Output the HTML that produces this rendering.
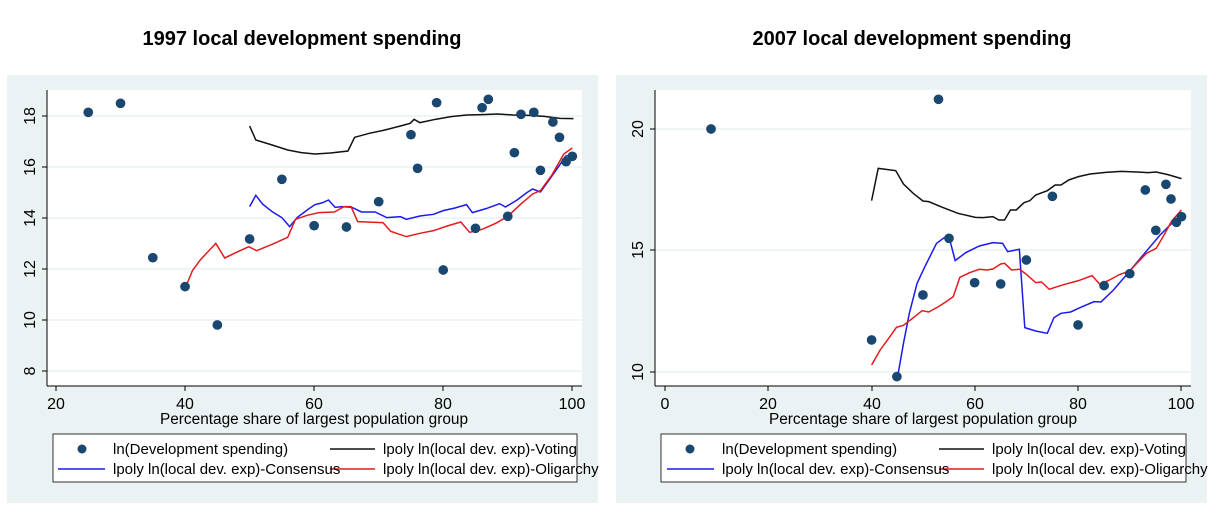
<!DOCTYPE html>
<html><head><meta charset="utf-8"><style>
html,body{margin:0;padding:0;background:#fff;}
svg{display:block;font-family:"Liberation Sans",Arial,sans-serif;}
</style></head><body>
<svg width="1216" height="525" viewBox="0 0 1216 525" xmlns="http://www.w3.org/2000/svg">
<rect width="1216" height="525" fill="#fff"/>
<text x="302" y="45" font-size="20" font-weight="bold" text-anchor="middle">1997 local development spending</text>
<text x="912" y="45" font-size="20" font-weight="bold" text-anchor="middle">2007 local development spending</text>

<!-- LEFT PANEL -->
<rect x="7" y="75" width="591" height="428" fill="#eaf2f3"/>
<rect x="47" y="90" width="535" height="296" fill="#fff"/>
<g stroke="#eaf2f3" stroke-width="1.5">
<line x1="47" x2="582" y1="116" y2="116"/><line x1="47" x2="582" y1="167" y2="167"/>
<line x1="47" x2="582" y1="218" y2="218"/><line x1="47" x2="582" y1="269" y2="269"/>
<line x1="47" x2="582" y1="320" y2="320"/><line x1="47" x2="582" y1="371" y2="371"/>
</g>
<g stroke="#000" stroke-width="1">
<line x1="47" y1="90" x2="47" y2="386"/><line x1="47" y1="386" x2="582" y2="386"/>
<line x1="42" x2="47" y1="116" y2="116"/><line x1="42" x2="47" y1="167" y2="167"/><line x1="42" x2="47" y1="218" y2="218"/><line x1="42" x2="47" y1="269" y2="269"/><line x1="42" x2="47" y1="320" y2="320"/><line x1="42" x2="47" y1="371" y2="371"/>
<line x1="56" x2="56" y1="386" y2="391"/><line x1="185" x2="185" y1="386" y2="391"/><line x1="314" x2="314" y1="386" y2="391"/><line x1="443" x2="443" y1="386" y2="391"/><line x1="572" x2="572" y1="386" y2="391"/>
</g>
<g font-size="16" text-anchor="middle">
<text x="56" y="409">20</text><text x="185" y="409">40</text><text x="314" y="409">60</text><text x="443" y="409">80</text><text x="572" y="409">100</text>
<text transform="translate(35,116) rotate(-90)">18</text><text transform="translate(35,167) rotate(-90)">16</text><text transform="translate(35,218) rotate(-90)">14</text><text transform="translate(35,269) rotate(-90)">12</text><text transform="translate(35,320) rotate(-90)">10</text><text transform="translate(35,371) rotate(-90)">8</text>
<text x="314" y="424" font-size="15.4">Percentage share of largest population group</text>
</g>
<g transform="translate(0,70) scale(0.3888,0.3333)" fill="none" stroke-width="1.5">
<polyline vector-effect="non-scaling-stroke" stroke="#111" points="642,168 658,210 700,225 740,240 775,248 810,252 850,249 895,243 912,202 950,190 990,180 1030,168 1055,160 1065,148 1080,158 1120,148 1160,140 1200,135 1240,134 1280,132 1320,135 1360,136 1400,139 1440,145 1475,146"/>
<polyline vector-effect="non-scaling-stroke" stroke="#1a1aee" points="642,410 658,376 675,402 700,425 725,443 745,470 765,442 790,420 810,404 830,398 845,390 862,412 880,410 905,412 930,426 965,426 995,443 1030,440 1045,448 1080,438 1115,433 1140,422 1170,414 1200,404 1215,428 1250,416 1285,401 1300,411 1330,390 1355,368 1370,357 1390,366 1410,334 1440,284 1455,258 1475,256"/>
<polyline vector-effect="non-scaling-stroke" stroke="#e41a1c" points="478,650 495,602 515,570 555,520 578,564 610,546 640,530 660,542 700,523 740,502 760,448 790,436 820,428 860,426 885,410 903,410 920,455 985,458 1005,484 1045,500 1080,490 1115,482 1150,468 1185,456 1208,487 1240,478 1275,460 1305,440 1340,402 1370,372 1390,362 1420,314 1450,252 1472,234"/>
<g fill="#1a476f" stroke="none">
<ellipse cx="227" cy="127" rx="12.5" ry="14.5"/><ellipse cx="310" cy="100" rx="12.5" ry="14.5"/><ellipse cx="393" cy="563" rx="12.5" ry="14.5"/><ellipse cx="476" cy="650" rx="12.5" ry="14.5"/><ellipse cx="559" cy="765" rx="12.5" ry="14.5"/><ellipse cx="642" cy="507" rx="12.5" ry="14.5"/><ellipse cx="725" cy="328" rx="12.5" ry="14.5"/><ellipse cx="808" cy="467" rx="12.5" ry="14.5"/><ellipse cx="891" cy="471" rx="12.5" ry="14.5"/><ellipse cx="974" cy="395" rx="12.5" ry="14.5"/><ellipse cx="1057" cy="194" rx="12.5" ry="14.5"/><ellipse cx="1074" cy="295" rx="12.5" ry="14.5"/><ellipse cx="1123" cy="98" rx="12.5" ry="14.5"/><ellipse cx="1140" cy="600" rx="12.5" ry="14.5"/><ellipse cx="1223" cy="475" rx="12.5" ry="14.5"/><ellipse cx="1240" cy="113" rx="12.5" ry="14.5"/><ellipse cx="1256" cy="88" rx="12.5" ry="14.5"/><ellipse cx="1306" cy="439" rx="12.5" ry="14.5"/><ellipse cx="1323" cy="248" rx="12.5" ry="14.5"/><ellipse cx="1340" cy="133" rx="12.5" ry="14.5"/><ellipse cx="1373" cy="127" rx="12.5" ry="14.5"/><ellipse cx="1390" cy="301" rx="12.5" ry="14.5"/><ellipse cx="1422" cy="156" rx="12.5" ry="14.5"/><ellipse cx="1439" cy="202" rx="12.5" ry="14.5"/><ellipse cx="1456" cy="275" rx="12.5" ry="14.5"/><ellipse cx="1472" cy="259" rx="12.5" ry="14.5"/>
</g>
</g>
<!-- legend left -->
<rect x="53" y="434" width="524" height="48" fill="#fff" stroke="#333" stroke-width="1"/>
<circle cx="82" cy="449" r="4.5" fill="#1a476f"/>
<line x1="58" x2="105" y1="469" y2="469" stroke="#1a1aee" stroke-width="1.5"/>
<line x1="330" x2="375" y1="449" y2="449" stroke="#111" stroke-width="1.5"/>
<line x1="330" x2="375" y1="469" y2="469" stroke="#e41a1c" stroke-width="1.5"/>
<g font-size="15"><text x="113" y="454">ln(Development spending)</text><text x="113" y="474">lpoly ln(local dev. exp)-Consensus</text><text x="383" y="454">lpoly ln(local dev. exp)-Voting</text><text x="383" y="474">lpoly ln(local dev. exp)-Oligarchy</text></g>

<!-- RIGHT PANEL -->
<rect x="616" y="75" width="591" height="428" fill="#eaf2f3"/>
<rect x="655" y="90" width="536" height="296" fill="#fff"/>
<g stroke="#eaf2f3" stroke-width="1.5">
<line x1="655" x2="1191" y1="129" y2="129"/><line x1="655" x2="1191" y1="250" y2="250"/><line x1="655" x2="1191" y1="372" y2="372"/>
</g>
<g stroke="#000" stroke-width="1">
<line x1="655" y1="90" x2="655" y2="386"/><line x1="655" y1="386" x2="1191" y2="386"/>
<line x1="650" x2="655" y1="129" y2="129"/><line x1="650" x2="655" y1="250" y2="250"/><line x1="650" x2="655" y1="372" y2="372"/>
<line x1="665" x2="665" y1="386" y2="391"/><line x1="768" x2="768" y1="386" y2="391"/><line x1="872" x2="872" y1="386" y2="391"/><line x1="975" x2="975" y1="386" y2="391"/><line x1="1078" x2="1078" y1="386" y2="391"/><line x1="1181" x2="1181" y1="386" y2="391"/>
</g>
<g font-size="16" text-anchor="middle">
<text x="665" y="409">0</text><text x="768" y="409">20</text><text x="872" y="409">40</text><text x="975" y="409">60</text><text x="1078" y="409">80</text><text x="1181" y="409">100</text>
<text transform="translate(643,129) rotate(-90)">20</text><text transform="translate(643,250) rotate(-90)">15</text><text transform="translate(643,372) rotate(-90)">10</text>
<text x="923" y="424" font-size="15.4">Percentage share of largest population group</text>
</g>
<g transform="translate(608,70) scale(0.3888,0.3333)" fill="none" stroke-width="1.5">
<polyline vector-effect="non-scaling-stroke" stroke="#111" points="678,392 695,295 740,302 760,342 785,370 810,393 825,395 860,412 900,430 945,442 965,443 990,440 1005,450 1020,450 1035,420 1050,420 1070,398 1085,392 1100,375 1130,362 1150,345 1165,345 1185,330 1210,320 1240,312 1280,307 1320,304 1360,306 1390,308 1410,306 1440,314 1475,326"/>
<polyline vector-effect="non-scaling-stroke" stroke="#1a1aee" points="745,920 760,820 775,730 795,640 815,590 845,520 865,503 878,505 893,572 920,548 955,528 990,518 1015,520 1028,545 1058,538 1072,773 1100,783 1130,790 1147,743 1165,730 1190,726 1210,715 1250,695 1268,696 1300,660 1342,603 1380,550 1420,495 1450,460 1475,440"/>
<polyline vector-effect="non-scaling-stroke" stroke="#e41a1c" points="678,885 700,840 725,800 742,772 760,766 780,748 808,722 825,726 850,710 870,695 888,680 905,622 930,608 955,598 975,600 990,597 1010,582 1020,580 1038,600 1058,598 1075,612 1100,638 1115,636 1135,658 1150,652 1175,643 1210,632 1245,617 1265,643 1290,630 1315,614 1342,603 1360,580 1385,550 1410,535 1430,495 1450,453 1475,420"/>
<g fill="#1a476f" stroke="none">
<ellipse cx="265" cy="177" rx="12.5" ry="14.5"/><ellipse cx="850" cy="88" rx="12.5" ry="14.5"/><ellipse cx="877" cy="505" rx="12.5" ry="14.5"/><ellipse cx="678" cy="810" rx="12.5" ry="14.5"/><ellipse cx="743" cy="920" rx="12.5" ry="14.5"/><ellipse cx="810" cy="675" rx="12.5" ry="14.5"/><ellipse cx="943" cy="638" rx="12.5" ry="14.5"/><ellipse cx="1010" cy="642" rx="12.5" ry="14.5"/><ellipse cx="1076" cy="570" rx="12.5" ry="14.5"/><ellipse cx="1143" cy="379" rx="12.5" ry="14.5"/><ellipse cx="1209" cy="765" rx="12.5" ry="14.5"/><ellipse cx="1276" cy="647" rx="12.5" ry="14.5"/><ellipse cx="1342" cy="611" rx="12.5" ry="14.5"/><ellipse cx="1382" cy="360" rx="12.5" ry="14.5"/><ellipse cx="1409" cy="481" rx="12.5" ry="14.5"/><ellipse cx="1435" cy="343" rx="12.5" ry="14.5"/><ellipse cx="1448" cy="387" rx="12.5" ry="14.5"/><ellipse cx="1462" cy="457" rx="12.5" ry="14.5"/><ellipse cx="1475" cy="440" rx="12.5" ry="14.5"/>
</g>
</g>
<!-- legend right -->
<rect x="661" y="434" width="525" height="48" fill="#fff" stroke="#333" stroke-width="1"/>
<circle cx="690" cy="449" r="4.5" fill="#1a476f"/>
<line x1="667" x2="714" y1="469" y2="469" stroke="#1a1aee" stroke-width="1.5"/>
<line x1="939" x2="984" y1="449" y2="449" stroke="#111" stroke-width="1.5"/>
<line x1="939" x2="984" y1="469" y2="469" stroke="#e41a1c" stroke-width="1.5"/>
<g font-size="15"><text x="722" y="454">ln(Development spending)</text><text x="722" y="474">lpoly ln(local dev. exp)-Consensus</text><text x="992" y="454">lpoly ln(local dev. exp)-Voting</text><text x="992" y="474">lpoly ln(local dev. exp)-Oligarchy</text></g>
</svg>
</body></html>
